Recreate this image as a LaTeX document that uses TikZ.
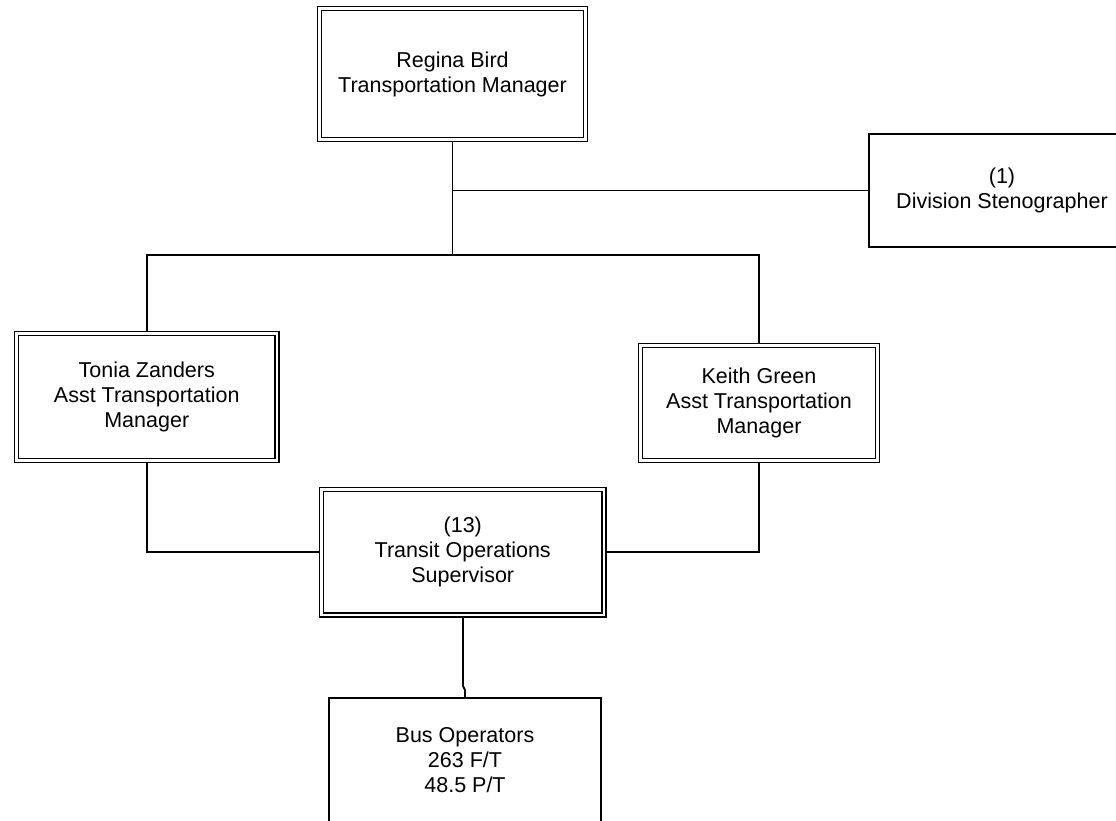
\documentclass[tikz,border=0pt]{standalone}
\usepackage{fontspec}
\setmainfont{Liberation Sans}
\usetikzlibrary{backgrounds}
\tikzset{
  x=1pt, y=-1pt,
  boxbase/.style={rectangle, inner sep=0pt, align=center, fill=white,
    font=\fontsize{21.5}{25}\selectfont},
  dblbox/.style={boxbase, draw, double, line width=1.6pt, double distance=2.4pt},
  sglbox/.style={boxbase, draw, line width=1.8pt},
  conn/.style={draw, line width=1.8pt}
}
\begin{document}
\begin{tikzpicture}
\useasboundingbox (0,0) rectangle (1116,820);
\node[dblbox, minimum width=266pt, minimum height=131pt] (regina) at (452.5,74) {Regina Bird\\Transportation Manager};
\node[sglbox, minimum width=266pt, minimum height=113pt] (steno) at (1002,190.5) {(1)\\Division Stenographer};
\node[dblbox, minimum width=260.5pt, minimum height=127pt] (tonia) at (146.75,397) {Tonia Zanders\\Asst Transportation\\Manager};
\node[dblbox, minimum width=237pt, minimum height=115pt] (keith) at (759,403) {Keith Green\\Asst Transportation\\Manager};
\node[dblbox, minimum width=282.5pt, minimum height=125.5pt] (transit) at (462.75,552.25) {(13)\\Transit Operations\\Supervisor};
\node[sglbox, minimum width=272pt, minimum height=124pt] (bus) at (465,760) {Bus Operators\\263 F/T\\48.5 P/T};
\coordinate (bar) at (452.5,255);
\coordinate (j1) at (463,686);
\coordinate (j2) at (465,690);
\begin{scope}[on background layer]
\draw[conn] (regina.south) -- (bar);
\draw[conn] (regina.south |- steno.west) -- (steno.west);
\draw[conn] (tonia.north) |- (bar) -| (keith.north);
\draw[conn] (tonia.south) |- (transit.west);
\draw[conn] (keith.south) |- (transit.east);
\draw[conn] (transit.south -| j1) -- (j1) -- (j2) -- (bus.north -| j2);
\end{scope}
\end{tikzpicture}
\end{document}
